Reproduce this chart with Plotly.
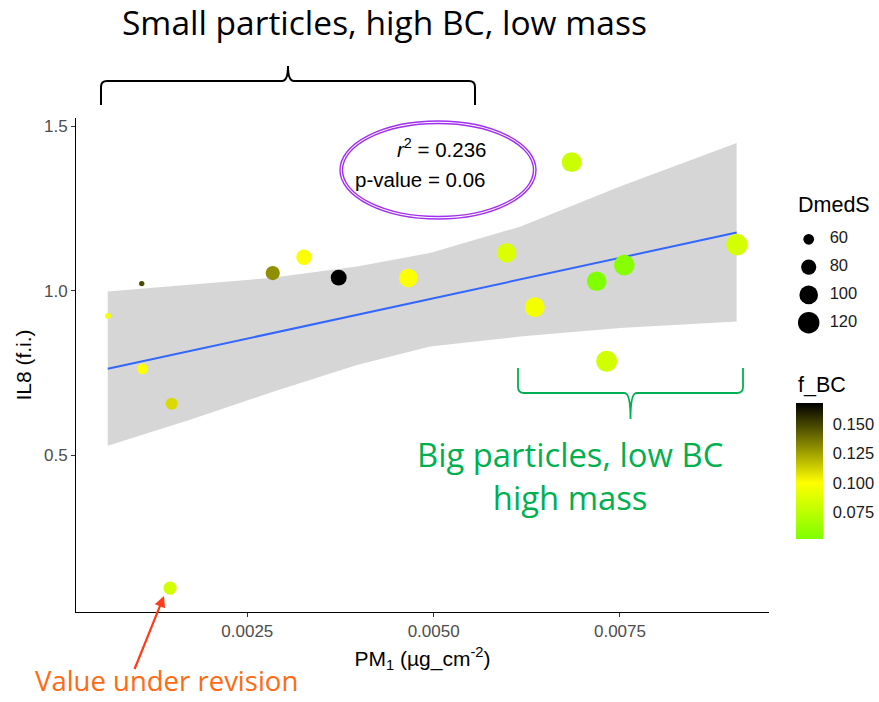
import numpy as np
import plotly.graph_objects as go

# ---------------- data ----------------
pm1 = [0.000631, 0.001083, 0.001096, 0.001485, 0.001463, 0.002841, 0.003260, 0.003726,
       0.004660, 0.005980, 0.006356, 0.006852, 0.007188, 0.007558, 0.007322, 0.009070]
il8 = [0.924, 1.022, 0.763, 0.657, 0.097, 1.054, 1.102, 1.040,
       1.039, 1.115, 0.950, 1.391, 1.029, 1.078, 0.786, 1.140]
f_bc = [0.101, 0.148, 0.100, 0.110, 0.084, 0.130, 0.099, 0.168,
        0.099, 0.087, 0.096, 0.080, 0.052, 0.055, 0.082, 0.084]
dmeds = [46, 45, 60, 65, 70, 75, 81, 84,
         100, 105, 109, 109, 107, 114, 117, 119]

band_x = [0.000627, 0.001731, 0.002804, 0.003972, 0.004951, 0.006159, 0.007500, 0.009066]
band_upper = [0.998, 1.018, 1.039, 1.074, 1.115, 1.195, 1.317, 1.449]
band_lower = [0.529, 0.608, 0.690, 0.775, 0.831, 0.861, 0.887, 0.907]
fit_x = [0.000627, 0.009066]
fit_y = [0.763, 1.177]

x_ticks = [0.0025, 0.0050, 0.0075]
y_ticks = [0.5, 1.0, 1.5]
cbar_ticks = [0.075, 0.100, 0.125, 0.150]
size_legend = [60, 80, 100, 120]
r2_value = 0.236
p_value = 0.06

# ---------------- geometry helpers (layout only) ----------------
W, H = 879, 702
ML, MR, MT, MB = 76, 0, 118, 90
PW, PH = W - ML - MR, H - MT - MB


def px(x):
    return (x - ML) / PW


def py(y):
    return (H - MB - y) / PH


def diam(v):
    return 2.4 * np.sqrt(np.asarray(v, dtype=float) - 40)


cmin, cmax = min(f_bc), max(f_bc)
mid = (0.1 - cmin) / (cmax - cmin)
colorscale = [[0, "#7FFF00"], [mid, "#FFFF00"], [1, "#000000"]]

fig = go.Figure()

# confidence ribbon
fig.add_trace(go.Scatter(
    x=band_x + band_x[::-1], y=band_upper + band_lower[::-1],
    fill="toself", fillcolor="rgba(153,153,153,0.4)", line=dict(width=0),
    mode="lines", hoverinfo="skip", showlegend=False))

# regression line
fig.add_trace(go.Scatter(
    x=fit_x, y=fit_y, mode="lines", line=dict(color="#3366FF", width=2),
    showlegend=False))

# points
fig.add_trace(go.Scatter(
    x=pm1, y=il8, mode="markers", showlegend=False,
    marker=dict(
        size=diam(dmeds), color=f_bc, colorscale=colorscale, cmin=cmin, cmax=cmax,
        line=dict(width=0), opacity=1,
        colorbar=dict(
            x=px(795.7), xanchor="left", xpad=0, ypad=0,
            y=py(471.3), yanchor="middle",
            len=136, lenmode="pixels", thickness=27, thicknessmode="pixels",
            outlinewidth=0, ticks="outside", ticklen=7, tickcolor="rgba(255,255,255,0)",
            tickwidth=1, tickvals=cbar_ticks, tickformat=".3f",
            tickfont=dict(size=16.5, color="#1A1A1A"),
        ),
    )))

# size legend (DmedS) on its own small axes
fig.add_trace(go.Scatter(
    x=[0] * len(size_legend), y=list(range(len(size_legend))), mode="markers",
    marker=dict(size=diam(size_legend), color="#000000", opacity=1,
                line=dict(width=0)),
    xaxis="x2", yaxis="y2", showlegend=False, hoverinfo="skip"))
fig.add_trace(go.Scatter(
    x=[21] * len(size_legend), y=list(range(len(size_legend))), mode="text",
    text=[str(v) for v in size_legend], textposition="middle right",
    textfont=dict(size=16.5, color="#1A1A1A"),
    xaxis="x2", yaxis="y2", showlegend=False, hoverinfo="skip"))

axis_common = dict(showgrid=False, zeroline=False, showline=True, linecolor="black",
                   linewidth=1, ticks="outside", ticklen=4, tickcolor="#333333",
                   tickwidth=1, tickfont=dict(size=17, color="#4D4D4D"))

fig.update_layout(
    width=W, height=H, margin=dict(l=ML, r=MR, t=MT, b=MB, pad=0),
    paper_bgcolor="white", plot_bgcolor="white",
    font=dict(family="Liberation Sans, Arial, sans-serif", color="black"),
    showlegend=False,
    xaxis=dict(domain=[0, px(769)], range=[0.000201, 0.0095], tickvals=x_ticks,
               tickformat=".4f", anchor="y",
               title=dict(text="PM<sub>1</sub> (µg_cm<sup>-2</sup>)",
                          font=dict(size=21, color="black"), standoff=10),
               **axis_common),
    yaxis=dict(domain=[0, 1], range=[0.0243, 1.525], tickvals=y_ticks,
               tickformat=".1f", anchor="x",
               title=dict(text="IL8 (f.i.)", font=dict(size=21, color="black"),
                          standoff=6),
               **axis_common),
    xaxis2=dict(domain=[px(790), 1], range=[-18.7, 70.3], visible=False,
                anchor="y2", fixedrange=True),
    yaxis2=dict(domain=[py(340), py(222)], range=[3.622, -0.622], visible=False,
                anchor="x2", fixedrange=True),
)

ann = []
# legend titles
ann.append(dict(text="DmedS", x=px(796), y=py(205), xref="paper", yref="paper",
                xanchor="left", yanchor="middle", showarrow=False,
                font=dict(size=21.5, color="black")))
ann.append(dict(text="f_BC", x=px(796), y=py(385), xref="paper", yref="paper",
                xanchor="left", yanchor="middle", showarrow=False,
                font=dict(size=21.5, color="black")))
# r2 / p-value
ann.append(dict(text="<i>r</i><sup>2</sup> = %.3f" % r2_value, x=px(488), y=py(148),
                xref="paper", yref="paper", xanchor="right", yanchor="middle",
                showarrow=False, font=dict(size=20.5, color="black")))
ann.append(dict(text="p-value = %.2f" % p_value, x=px(488), y=py(179),
                xref="paper", yref="paper", xanchor="right", yanchor="middle",
                showarrow=False, font=dict(size=20.5, color="black")))
# big texts
ann.append(dict(text="Small particles, high BC, low mass", x=px(384), y=py(22),
                xref="paper", yref="paper", xanchor="center", yanchor="middle",
                showarrow=False, font=dict(family="Open Sans", size=33.5, color="black")))
ann.append(dict(text="Big particles, low BC<br>high mass", x=px(570), y=py(476),
                xref="paper", yref="paper", xanchor="center", yanchor="middle",
                showarrow=False, align="center",
                font=dict(family="Open Sans", size=32.8, color="#00B050")))
ann.append(dict(text="Value under revision", x=px(166), y=py(701), ax=0, ay=0,
                xref="paper", yref="paper", xanchor="center", yanchor="bottom",
                showarrow=False, font=dict(family="Open Sans", size=27.5, color="#FF6A13")))
# arrow
ann.append(dict(text=" ", x=px(164), y=py(596), xref="paper", yref="paper",
                ax=-31, ay=77, showarrow=True, arrowhead=2, arrowsize=1,
                arrowwidth=2.2, arrowcolor="#FF3B1A", standoff=0,
                font=dict(size=4)))
fig.update_layout(annotations=ann)


def to_path(pts):
    out = []
    for cmd, *coords in pts:
        pairs = []
        for i in range(0, len(coords), 2):
            pairs.append("%.5f,%.5f" % (px(coords[i]), py(coords[i + 1])))
        out.append(cmd + " " + " ".join(pairs))
    return " ".join(out)


r = 6
# black brace (opening downward)
bx0, bx1, by, btip, bend = 101, 475, 81, 66, 105
bc = (bx0 + bx1) / 2
black_brace = to_path([
    ("M", bx0, bend), ("L", bx0, by + r), ("Q", bx0, by, bx0 + r, by),
    ("L", bc - r, by), ("Q", bc, by, bc, btip), ("Q", bc, by, bc + r, by),
    ("L", bx1 - r, by), ("Q", bx1, by, bx1, by + r), ("L", bx1, bend)])
# green brace (opening upward)
gx0, gx1, gy, gtip, gend = 518, 743, 393, 419, 368
gc = (gx0 + gx1) / 2
green_brace = to_path([
    ("M", gx0, gend), ("L", gx0, gy - r), ("Q", gx0, gy, gx0 + r, gy),
    ("L", gc - r, gy), ("Q", gc, gy, gc, gtip), ("Q", gc, gy, gc + r, gy),
    ("L", gx1 - r, gy), ("Q", gx1, gy, gx1, gy - r), ("L", gx1, gend)])

shapes = [
    dict(type="path", path=black_brace, xref="paper", yref="paper",
         line=dict(color="black", width=2)),
    dict(type="path", path=green_brace, xref="paper", yref="paper",
         line=dict(color="#00B050", width=1.8)),
    dict(type="circle", xref="paper", yref="paper", x0=px(340), x1=px(536),
         y0=py(219), y1=py(121), line=dict(color="#A030F0", width=1.4)),
    dict(type="circle", xref="paper", yref="paper", x0=px(342.5), x1=px(533.5),
         y0=py(216.5), y1=py(123.5), line=dict(color="#A030F0", width=1.4)),
]
fig.update_layout(shapes=shapes)

fig.write_html("out.html")
